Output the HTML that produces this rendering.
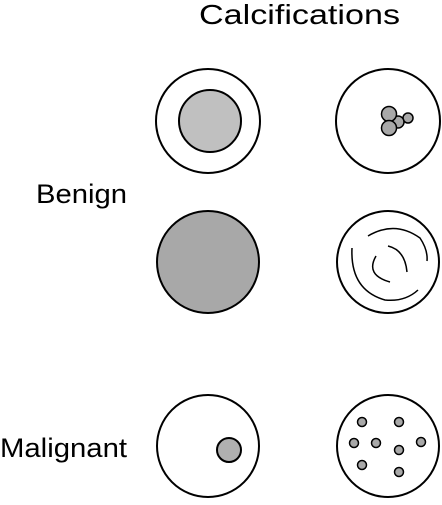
<!DOCTYPE html>
<html><head><meta charset="utf-8"><style>
body{margin:0;background:#fff}
svg text{font-family:"Liberation Sans",sans-serif;fill:#000}
</style></head><body>
<svg width="442" height="500" viewBox="0 0 442 500">
<text x="199" y="24" font-size="28" textLength="201" lengthAdjust="spacingAndGlyphs">Calcifications</text>
<text x="36" y="203" font-size="27" textLength="91" lengthAdjust="spacingAndGlyphs">Benign</text>
<text x="0" y="457" font-size="27" textLength="127" lengthAdjust="spacingAndGlyphs">Malignant</text>
<g stroke="#000" stroke-width="2" fill="#fff">
<g>
<circle cx="208" cy="121" r="52"/><circle cx="210" cy="121" r="31" fill="#c0c0c0"/></g>
<g>
<circle cx="208" cy="262" r="51" fill="#a8a8a8"/></g>
<g>
<circle cx="208" cy="446" r="51"/><circle cx="229" cy="450" r="12" fill="#b0b0b0"/></g>
<g>
<circle cx="388" cy="121" r="52"/>
<g fill="#a8a8a8" stroke-width="1.5">
<circle cx="408" cy="118" r="5"/><circle cx="398" cy="122" r="6"/>
<circle cx="389" cy="114" r="7.5"/><circle cx="389" cy="128" r="7.5"/></g></g>
<g>
<circle cx="388" cy="262" r="51"/>
<g fill="none" stroke-width="1.5">
<path d="M368 236 Q395 220 420 238 Q428 250 427 261"/>
<path d="M352 248 Q350 290 385 300 Q405 302 418 290"/>
<path d="M388 246 Q405 250 407 272"/>
<path d="M376 256 Q365 275 390 282"/></g></g>
<g>
<circle cx="388" cy="446" r="51"/>
<g fill="#a8a8a8" stroke-width="1.5">
<circle cx="362" cy="422" r="4.5"/><circle cx="399" cy="422" r="4.5"/>
<circle cx="354" cy="443" r="4.5"/><circle cx="376" cy="443" r="4.5"/>
<circle cx="421" cy="442" r="4.5"/><circle cx="399" cy="450" r="4.5"/>
<circle cx="362" cy="465" r="4.5"/><circle cx="399" cy="472" r="4.5"/></g></g>
</g>
</svg>
</body></html>
